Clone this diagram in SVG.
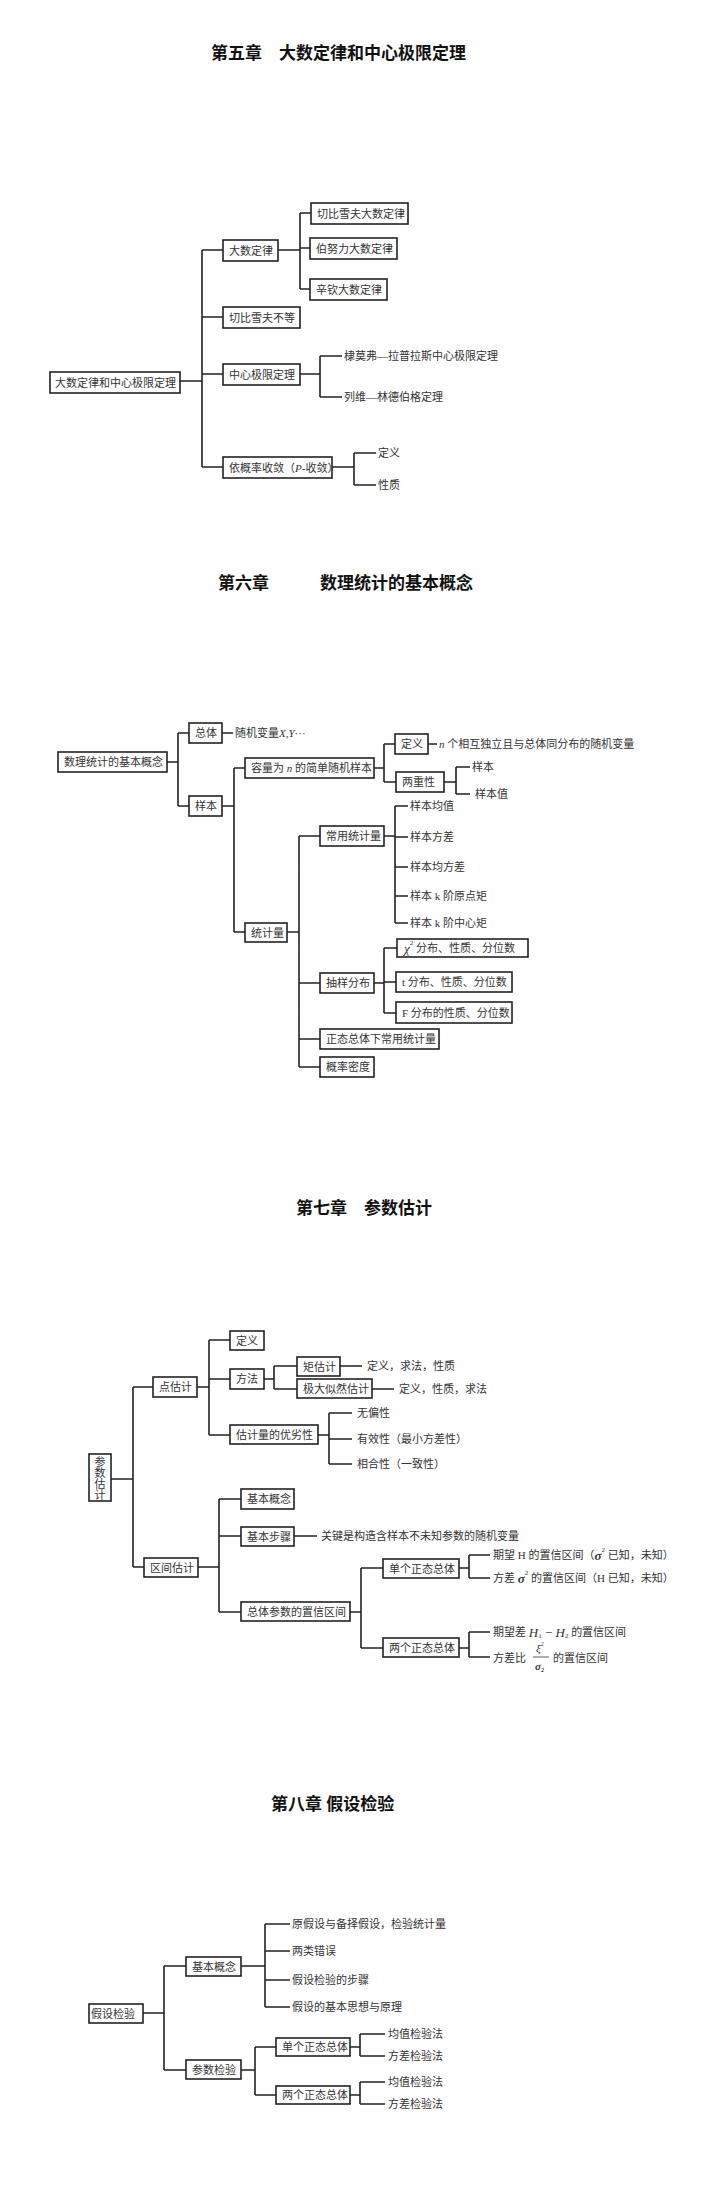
<svg xmlns="http://www.w3.org/2000/svg" width="720" height="2203" viewBox="0 0 720 2203">
<style>
.b{fill:#fff;stroke:#222;stroke-width:1.6}
.c{fill:none;stroke:#222;stroke-width:1.6}
text{font-family:"Liberation Serif","Noto Sans CJK SC",serif;font-size:11px;fill:#333;dominant-baseline:central}
.h{font-size:17px;font-weight:bold;fill:#111}
.i{font-style:italic}
</style>
<rect width="720" height="2203" fill="#fff"/>
<text class="h" x="211" y="53">第五章　大数定律和中心极限定理</text>
<text class="h" x="218" y="583">第六章　　　数理统计的基本概念</text>
<text class="h" x="296" y="1208">第七章　参数估计</text>
<text class="h" x="271" y="1804">第八章 假设检验</text>
<g id="connectors">
<path class="c" d="M180 381H202M202 250V467M202 250H223M202 317H223M202 374H223M202 467H223M278 250H300M300 213V289M300 213H311M300 248H310M300 289H310M300 374H320M320 356V397M320 356H342M320 397H342M332 467H354M354 453V485M354 453H376M354 485H376"/>
<path class="c" d="M167 762H178M178 733V806M178 733H189M178 806H189M222 733H233M222 806H234M234 768V932M234 768H245M234 932H245M374 768H384M384 744V782M384 744H395M384 782H396M428 744H437M444 782H456M456 767V794M456 767H470M456 794H470M287 932H299M299 836V1067M299 836H320M299 983H320M299 1039H320M299 1067H320M384 836H395M395 806V923M395 806H408M395 837H408M395 867H408M395 896H408M395 923H408M374 983H384M384 948V1013M384 948H397M384 982H396M384 1013H396"/>
<path class="c" d="M111 1479H133M133 1387V1567M133 1387H153M133 1567H144M197 1387H209M209 1340V1435M209 1340H230M209 1379H230M209 1435H230M264 1379H274M274 1366V1389M274 1366H297M274 1389H297M340 1366H362M372 1389H394M318 1435H329M329 1413V1464M329 1413H352M329 1439H352M329 1464H352M198 1567H219M219 1499V1612M219 1499H241M219 1536H241M219 1612H241M294 1536H317M350 1612H361M361 1568V1648M361 1568H383M361 1648H383M459 1568H469M469 1555V1578M469 1555H490M469 1578H490M459 1648H469M469 1632V1657M469 1632H490M469 1657H490"/>
<path class="c" d="M143 2013H164M164 1966V2070M164 1966H186M164 2070H186M241 1966H265M265 1924V2007M265 1924H290M265 1951H290M265 1980H290M265 2007H290M241 2070H255M255 2047V2095M255 2047H276M255 2095H276M350 2047H360M360 2034V2056M360 2034H385M360 2056H385M350 2095H360M360 2082V2104M360 2082H385M360 2104H385"/>
</g>
<!-- Chapter 5 -->
<g id="n5root"><rect class="b" x="50" y="372" width="130" height="21"/><text x="55" y="382.5">大数定律和中心极限定理</text></g>
<g id="n5a"><rect class="b" x="223" y="240" width="55" height="21"/><text x="229" y="250.5">大数定律</text></g>
<g id="n5a1"><rect class="b" x="311" y="203" width="97" height="21"/><text x="317" y="213.5">切比雪夫大数定律</text></g>
<g id="n5a2"><rect class="b" x="310" y="238" width="87" height="21"/><text x="316" y="248.5">伯努力大数定律</text></g>
<g id="n5a3"><rect class="b" x="310" y="279" width="77" height="21"/><text x="316" y="289.5">辛钦大数定律</text></g>
<g id="n5b"><rect class="b" x="223" y="307" width="77" height="21"/><text x="229" y="317.5">切比雪夫不等</text></g>
<g id="n5c"><rect class="b" x="223" y="364" width="77" height="21"/><text x="229" y="374.5">中心极限定理</text></g>
<g id="n5c1"><text x="344" y="356">棣莫弗—拉普拉斯中心极限定理</text></g>
<g id="n5c2"><text x="344" y="397">列维—林德伯格定理</text></g>
<g id="n5d"><rect class="b" x="223" y="457" width="109" height="21"/><text x="229" y="467.5">依概率收敛（<tspan class="i">P</tspan>-收敛）</text></g>
<g id="n5d1"><text x="378" y="453">定义</text></g>
<g id="n5d2"><text x="378" y="485">性质</text></g>
<!-- Chapter 6 -->
<g id="n6root"><rect class="b" x="58" y="752" width="109" height="20"/><text x="64" y="762">数理统计的基本概念</text></g>
<g id="n6a"><rect class="b" x="189" y="723" width="33" height="20"/><text x="195" y="733">总体</text></g>
<g id="n6a1"><text x="235" y="733">随机变量<tspan class="i">X</tspan>,<tspan class="i">Y</tspan>···</text></g>
<g id="n6b"><rect class="b" x="189" y="796" width="33" height="20"/><text x="195" y="806">样本</text></g>
<g id="n6c"><rect class="b" x="245" y="758" width="129" height="20"/><text x="251" y="768">容量为 <tspan class="i">n</tspan> 的简单随机样本</text></g>
<g id="n6c1"><rect class="b" x="395" y="734" width="33" height="20"/><text x="401" y="744">定义</text></g>
<g id="n6c1t"><text x="439" y="744"><tspan class="i">n</tspan> 个相互独立且与总体同分布的随机变量</text></g>
<g id="n6c2"><rect class="b" x="396" y="772" width="48" height="20"/><text x="402" y="782">两重性</text></g>
<g id="n6c2a"><text x="472" y="767">样本</text></g>
<g id="n6c2b"><text x="475" y="794">样本值</text></g>
<g id="n6d"><rect class="b" x="245" y="923" width="42" height="19"/><text x="251" y="932.5">统计量</text></g>
<g id="n6e"><rect class="b" x="320" y="826" width="64" height="20"/><text x="326" y="836">常用统计量</text></g>
<g id="n6e1"><text x="410" y="806">样本均值</text></g>
<g id="n6e2"><text x="410" y="837">样本方差</text></g>
<g id="n6e3"><text x="410" y="867">样本均方差</text></g>
<g id="n6e4"><text x="410" y="896">样本 k 阶原点矩</text></g>
<g id="n6e5"><text x="410" y="923">样本 k 阶中心矩</text></g>
<g id="n6f"><rect class="b" x="320" y="973" width="54" height="20"/><text x="326" y="983">抽样分布</text></g>
<g id="n6f1"><rect class="b" x="397" y="939" width="131" height="18"/><text x="404" y="948"><tspan class="i" font-size="13">χ</tspan><tspan font-size="7" dy="-5">2</tspan><tspan dy="5"> 分布、性质、分位数</tspan></text></g>
<g id="n6f2"><rect class="b" x="396" y="972" width="116" height="20"/><text x="402" y="982">t 分布、性质、分位数</text></g>
<g id="n6f3"><rect class="b" x="396" y="1002" width="116" height="21"/><text x="402" y="1012.5">F 分布的性质、分位数</text></g>
<g id="n6g"><rect class="b" x="320" y="1029" width="119" height="20"/><text x="326" y="1039">正态总体下常用统计量</text></g>
<g id="n6h"><rect class="b" x="320" y="1057" width="54" height="20"/><text x="326" y="1067">概率密度</text></g>
<!-- Chapter 7 -->
<g id="n7root"><rect class="b" x="89" y="1454" width="22" height="47"/><text x="100" y="1462" text-anchor="middle">参</text><text x="100" y="1473" text-anchor="middle">数</text><text x="100" y="1484" text-anchor="middle">估</text><text x="100" y="1495" text-anchor="middle">计</text></g>
<g id="n7a"><rect class="b" x="153" y="1377" width="44" height="20"/><text x="159" y="1387">点估计</text></g>
<g id="n7a1"><rect class="b" x="230" y="1331" width="34" height="19"/><text x="236" y="1340.5">定义</text></g>
<g id="n7a2"><rect class="b" x="230" y="1369" width="34" height="20"/><text x="236" y="1379">方法</text></g>
<g id="n7a21"><rect class="b" x="297" y="1357" width="43" height="19"/><text x="303" y="1366.5">矩估计</text></g>
<g id="n7a21t"><text x="367" y="1366">定义，求法，性质</text></g>
<g id="n7a22"><rect class="b" x="297" y="1379" width="75" height="19"/><text x="303" y="1388.5">极大似然估计</text></g>
<g id="n7a22t"><text x="399" y="1389">定义，性质，求法</text></g>
<g id="n7a3"><rect class="b" x="230" y="1425" width="88" height="19"/><text x="236" y="1434.5">估计量的优劣性</text></g>
<g id="n7a31"><text x="357" y="1413">无偏性</text></g>
<g id="n7a32"><text x="357" y="1439">有效性（最小方差性）</text></g>
<g id="n7a33"><text x="357" y="1464">相合性（一致性）</text></g>
<g id="n7b"><rect class="b" x="144" y="1558" width="54" height="19"/><text x="150" y="1567.5">区间估计</text></g>
<g id="n7b1"><rect class="b" x="241" y="1489" width="53" height="20"/><text x="247" y="1499">基本概念</text></g>
<g id="n7b2"><rect class="b" x="241" y="1527" width="53" height="19"/><text x="247" y="1536.5">基本步骤</text></g>
<g id="n7b2t"><text x="321" y="1536">关键是构造含样本不未知参数的随机变量</text></g>
<g id="n7b3"><rect class="b" x="241" y="1602" width="109" height="19"/><text x="247" y="1611.5">总体参数的置信区间</text></g>
<g id="n7b31"><rect class="b" x="383" y="1559" width="76" height="19"/><text x="389" y="1568.5">单个正态总体</text></g>
<g id="n7b311"><text x="493" y="1555">期望 H 的置信区间（<tspan class="i" font-weight="bold" font-size="13">σ</tspan><tspan font-size="7" dy="-5">2</tspan><tspan dy="5"> 已知，未知）</tspan></text></g>
<g id="n7b312"><text x="493" y="1578">方差 <tspan class="i" font-weight="bold" font-size="13">σ</tspan><tspan font-size="7" dy="-5">2</tspan><tspan dy="5"> 的置信区间（H 已知，未知）</tspan></text></g>
<g id="n7b32"><rect class="b" x="383" y="1638" width="76" height="19"/><text x="389" y="1647.5">两个正态总体</text></g>
<g id="n7b321"><text x="493" y="1632">期望差 <tspan class="i" font-size="13">H</tspan><tspan font-size="7" dy="4">1</tspan><tspan dy="-4" font-size="13"> − </tspan><tspan class="i" font-size="13">H</tspan><tspan font-size="7" dy="4">2</tspan><tspan dy="-4"> 的置信区间</tspan></text></g>
<g id="n7b322"><text x="493" y="1658">方差比</text><text x="536" y="1648" font-size="9" class="i">ξ<tspan font-size="6" dy="-4">2</tspan></text><line x1="533" y1="1657" x2="549" y2="1657" stroke="#333" stroke-width="0.8"/><text x="535" y="1666" font-size="11" class="i" font-weight="bold">σ<tspan font-size="6" dy="4">2</tspan></text><text x="553" y="1658">的置信区间</text></g>
<!-- Chapter 8 -->
<g id="n8root"><rect class="b" x="89" y="2004" width="54" height="19"/><text x="91" y="2013.5">假设检验</text></g>
<g id="n8a"><rect class="b" x="186" y="1957" width="55" height="19"/><text x="192" y="1966.5">基本概念</text></g>
<g id="n8a1"><text x="292" y="1924">原假设与备择假设，检验统计量</text></g>
<g id="n8a2"><text x="292" y="1951">两类错误</text></g>
<g id="n8a3"><text x="292" y="1980">假设检验的步骤</text></g>
<g id="n8a4"><text x="292" y="2007">假设的基本思想与原理</text></g>
<g id="n8b"><rect class="b" x="186" y="2060" width="55" height="19"/><text x="192" y="2069.5">参数检验</text></g>
<g id="n8b1"><rect class="b" x="276" y="2038" width="74" height="18"/><text x="282" y="2047">单个正态总体</text></g>
<g id="n8b11"><text x="388" y="2034">均值检验法</text></g>
<g id="n8b12"><text x="388" y="2056">方差检验法</text></g>
<g id="n8b2"><rect class="b" x="276" y="2086" width="74" height="18"/><text x="282" y="2095">两个正态总体</text></g>
<g id="n8b21"><text x="388" y="2082">均值检验法</text></g>
<g id="n8b22"><text x="388" y="2104">方差检验法</text></g>
</svg>
